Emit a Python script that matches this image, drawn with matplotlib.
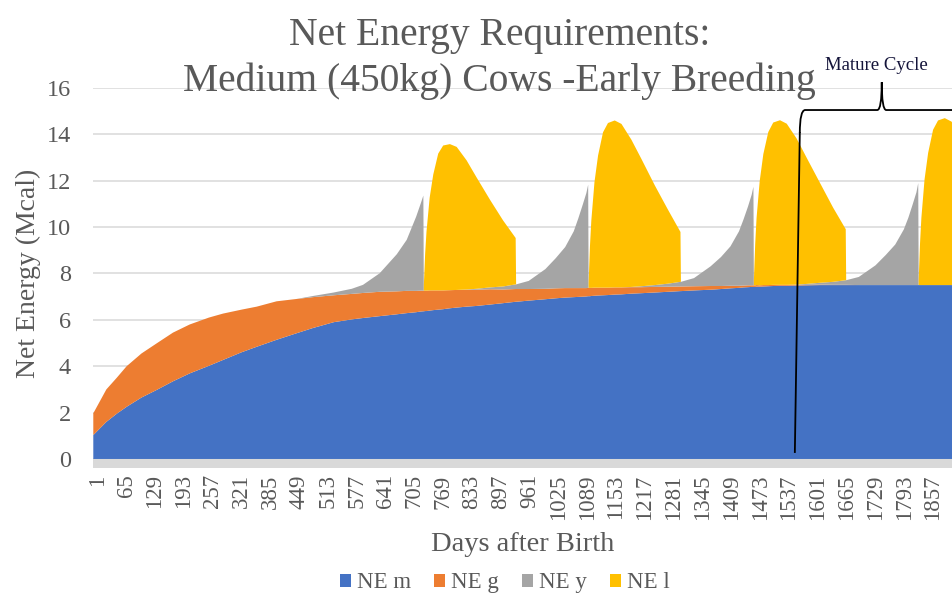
import matplotlib.pyplot as plt
from matplotlib.path import Path
from matplotlib.patches import PathPatch, Rectangle
from matplotlib.transforms import ScaledTranslation

# values (days after birth, Mcal per day)
days = [1, 30, 53, 75, 108, 142, 178, 215, 258, 289, 330, 364, 408, 452,
        489, 535, 575, 600, 637, 675, 697, 718, 728, 734,
        735, 738, 741, 748, 756, 767, 778, 793, 808, 830, 852, 882, 911, 939, 940,
        968, 1005, 1028, 1049, 1068, 1078, 1088, 1096, 1100,
        1101, 1104, 1107, 1114, 1122, 1133, 1144, 1159, 1174, 1196, 1218, 1248, 1277, 1305, 1306,
        1335, 1372, 1395, 1416, 1435, 1445, 1455, 1463, 1467,
        1468, 1471, 1474, 1481, 1489, 1500, 1511, 1526, 1541, 1563, 1585, 1615, 1644, 1672, 1673,
        1701, 1738, 1761, 1782, 1801, 1811, 1821, 1829, 1833,
        1834, 1837, 1840, 1847, 1855, 1866, 1877, 1892, 1907, 1929]

ne_m = [1.03, 1.6, 1.95, 2.25, 2.65, 2.98, 3.35, 3.69, 4.02, 4.27, 4.6, 4.84, 5.14, 5.42,
        5.65, 5.9, 6.02, 6.08, 6.16, 6.24, 6.29, 6.33, 6.36, 6.37,
        6.37, 6.38, 6.38, 6.4, 6.42, 6.44, 6.46, 6.5, 6.53, 6.57, 6.6, 6.66, 6.72, 6.78, 6.78,
        6.83, 6.89, 6.93, 6.96, 6.98, 6.99, 7.0, 7.01, 7.02,
        7.02, 7.02, 7.03, 7.04, 7.05, 7.06, 7.07, 7.09, 7.1, 7.13, 7.15, 7.18, 7.21, 7.24, 7.24,
        7.27, 7.3, 7.33, 7.36, 7.38, 7.4, 7.41, 7.42, 7.42,
        7.42, 7.42, 7.43, 7.43, 7.44, 7.45, 7.46, 7.47, 7.47, 7.48, 7.49, 7.5, 7.5, 7.5, 7.5,
        7.5, 7.5, 7.5, 7.5, 7.5, 7.5, 7.5, 7.5, 7.5,
        7.5, 7.5, 7.5, 7.5, 7.5, 7.5, 7.5, 7.5, 7.5, 7.5]

ne_g = [0.94, 1.4, 1.55, 1.75, 1.9, 2.01, 2.1, 2.11, 2.08, 2.0, 1.84, 1.73, 1.66, 1.48,
        1.33, 1.16, 1.1, 1.08, 1.05, 0.99, 0.96, 0.92, 0.9, 0.89,
        0.89, 0.88, 0.88, 0.87, 0.85, 0.83, 0.81, 0.78, 0.76, 0.73, 0.7, 0.66, 0.59, 0.55, 0.55,
        0.5, 0.45, 0.43, 0.41, 0.39, 0.38, 0.37, 0.36, 0.36,
        0.36, 0.36, 0.35, 0.35, 0.34, 0.33, 0.32, 0.31, 0.3, 0.28, 0.26, 0.24, 0.22, 0.2, 0.2,
        0.18, 0.16, 0.13, 0.11, 0.09, 0.08, 0.08, 0.07, 0.07,
        0.07, 0.07, 0.07, 0.06, 0.06, 0.05, 0.05, 0.04, 0.04, 0.03, 0.02, 0.02, 0.01, 0.01, 0.01,
        0, 0, 0, 0, 0, 0, 0, 0, 0,
        0, 0, 0, 0, 0, 0, 0, 0, 0, 0]

ne_y = [0, 0, 0, 0, 0, 0, 0, 0, 0, 0, 0, 0, 0, 0,
        0.05, 0.12, 0.22, 0.35, 0.8, 1.6, 2.2, 3.2, 3.75, 4.1,
        0, 0, 0, 0, 0, 0, 0, 0, 0, 0.01, 0.04, 0.08, 0.13, 0.2, 0.2,
        0.35, 0.85, 1.3, 1.77, 2.45, 3.0, 3.6, 4.1, 4.45,
        0, 0, 0, 0, 0, 0, 0, 0, 0, 0.01, 0.04, 0.08, 0.13, 0.2, 0.2,
        0.35, 0.85, 1.25, 1.7, 2.35, 2.85, 3.4, 3.9, 4.25,
        0, 0, 0, 0, 0, 0, 0, 0, 0, 0.01, 0.04, 0.08, 0.13, 0.2, 0.2,
        0.35, 0.85, 1.3, 1.75, 2.4, 2.9, 3.5, 4.0, 4.4,
        0, 0, 0, 0, 0, 0, 0, 0, 0, 0]

ne_l = [0, 0, 0, 0, 0, 0, 0, 0, 0, 0, 0, 0, 0, 0,
        0, 0, 0, 0, 0, 0, 0, 0, 0, 0,
        0.2, 1.6, 2.55, 4.0, 5.0, 5.9, 6.25, 6.3, 6.17, 5.57, 4.81, 3.78, 2.85, 2.0, 0,
        0, 0, 0, 0, 0, 0, 0, 0, 0,
        0.2, 1.8, 2.9, 4.55, 5.7, 6.7, 7.1, 7.2, 7.05, 6.35, 5.5, 4.3, 3.2, 2.15, 0,
        0, 0, 0, 0, 0, 0, 0, 0, 0,
        0.2, 1.8, 2.9, 4.5, 5.65, 6.6, 7.0, 7.1, 6.95, 6.3, 5.45, 4.3, 3.2, 2.2, 0,
        0, 0, 0, 0, 0, 0, 0, 0, 0,
        0.2, 1.8, 2.9, 4.55, 5.7, 6.7, 7.1, 7.2, 7.05, 6.35]

series_names = ["NE m", "NE g", "NE y", "NE l"]
series_colors = ["#4472C4", "#ED7D31", "#A5A5A5", "#FFC000"]
tick_days = list(range(1, 1858, 64))
y_ticks = list(range(0, 17, 2))

serif = "Liberation Serif"
grey_text = "#595959"

fig = plt.figure(figsize=(9.52, 5.97), dpi=100)
ax = fig.add_axes([0.098, 0.2312, 0.902, 0.6214])

ax.stackplot(days, ne_m, ne_g, ne_y, ne_l, colors=series_colors,
             labels=series_names, linewidth=0, zorder=2)

ax.set_xlim(1, 1908)
ax.set_ylim(0, 16)
ax.set_yticks(y_ticks)
ax.set_xticks(tick_days)
ax.set_xticklabels([str(d) for d in tick_days], rotation=90, va="top", ha="center")
ax.grid(axis="y", color="#D9D9D9", linewidth=1.1, zorder=0)
ax.set_axisbelow(True)
for s in ax.spines.values():
    s.set_visible(False)
ax.tick_params(length=0, labelcolor=grey_text)
ax.tick_params(axis="x", pad=11, labelsize=16.5)
ax.tick_params(axis="y", pad=16, labelsize=17.5)
for lab in ax.get_xticklabels() + ax.get_yticklabels():
    lab.set_fontfamily(serif)
for lab in ax.get_xticklabels():
    lab.set_transform(lab.get_transform() + ScaledTranslation(0.04, 0, fig.dpi_scale_trans))

# grey floor under the areas
ax.add_patch(Rectangle((0, -0.025), 1, 0.025, transform=ax.transAxes,
                       facecolor="#D9D9D9", edgecolor="none", clip_on=False))

ax.set_xlabel("Days after Birth", fontsize=20.5, color=grey_text, family=serif, labelpad=9)
ax.set_ylabel("Net Energy (Mcal)", fontsize=20, color=grey_text, family=serif, labelpad=4)

fig.text(0.525, 0.940, "Net Energy Requirements:", ha="center", va="center",
         fontsize=28.5, color=grey_text, family=serif)
fig.text(0.525, 0.864, "Medium (450kg) Cows -Early Breeding", ha="center", va="center",
         fontsize=28.5, color=grey_text, family=serif)

# mature cycle marker and brace
ax.plot([1559, 1570], [0.3, 14.06], color="black", linewidth=1.3, zorder=5, clip_on=False)
verts = [(1570, 14.06), (1570, 15.05), (1582, 15.05),
         (1742, 15.05),
         (1752, 15.05), (1752, 16.25),
         (1752, 15.05), (1762, 15.05),
         (2000, 15.05)]
codes = [Path.MOVETO, Path.CURVE3, Path.CURVE3,
         Path.LINETO,
         Path.CURVE3, Path.CURVE3,
         Path.CURVE3, Path.CURVE3,
         Path.LINETO]
ax.add_patch(PathPatch(Path(verts, codes), facecolor="none", edgecolor="black",
                       linewidth=1.3, zorder=5, clip_on=False))
ax.text(1741, 16.95, "Mature Cycle", ha="center", va="center", fontsize=13.5,
        color="#14143a", family=serif, clip_on=False)

fig.legend(loc="center", bbox_to_anchor=(0.53, 0.024), ncol=4, frameon=False,
           prop={"family": serif, "size": 16.5}, labelcolor=grey_text,
           handlelength=0.5, handleheight=0.5, handletextpad=0.25, columnspacing=1.0)

plt.savefig("out.png", dpi=100)
